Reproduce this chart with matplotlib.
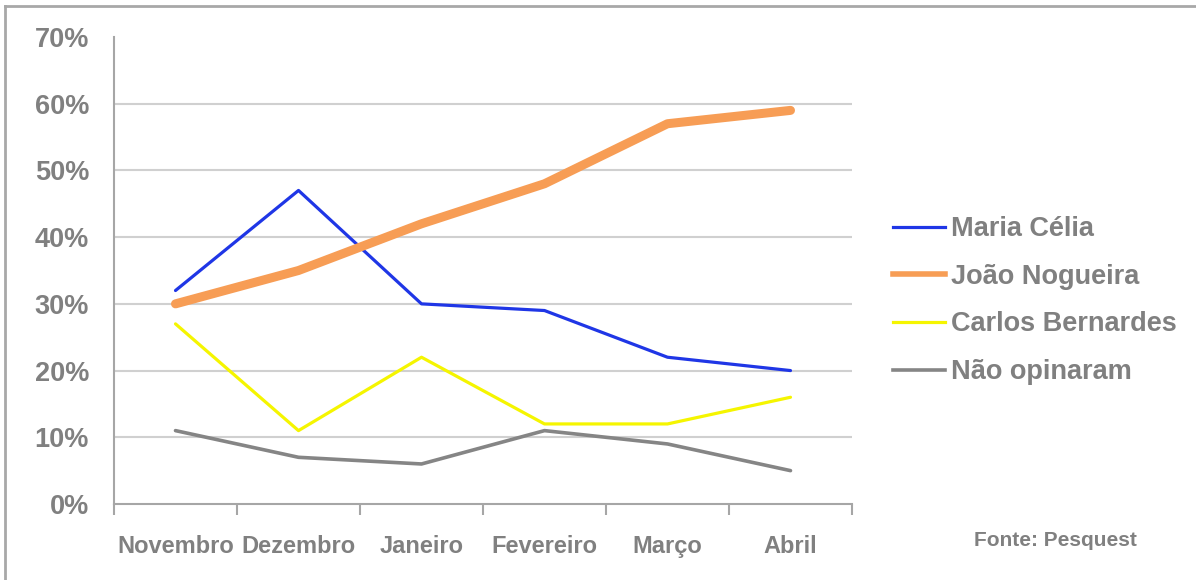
import matplotlib
matplotlib.use("Agg")
import matplotlib.pyplot as plt
from matplotlib.lines import Line2D

months = ["Novembro", "Dezembro", "Janeiro", "Fevereiro", "Março", "Abril"]
maria_celia = [32, 47, 30, 29, 22, 20]
joao_nogueira = [30, 35, 42, 48, 57, 59]
carlos_bernardes = [27, 11, 22, 12, 12, 16]
nao_opinaram = [11, 7, 6, 11, 9, 5]
y_ticks = [0, 10, 20, 30, 40, 50, 60, 70]
y_tick_labels = [f"{v}%" for v in y_ticks]

series = [
    ("Maria Célia", maria_celia, "#1f36e6", 2.3),
    ("João Nogueira", joao_nogueira, "#f79d55", 6.5),
    ("Carlos Bernardes", carlos_bernardes, "#f5f500", 2.3),
    ("Não opinaram", nao_opinaram, "#858585", 2.6),
]

plt.rcParams['font.family'] = ['Liberation Sans', 'DejaVu Sans']
W, H = 1196, 580
fig = plt.figure(figsize=(W / 100, H / 100), dpi=100)
ax = fig.add_axes([114 / W, 1 - 504 / H, (852 - 114) / W, (504 - 37) / H])

x = list(range(len(months)))
for name, vals, color, lw in series:
    ax.plot(x, vals, color=color, lw=lw, label=name, solid_capstyle='round',
            solid_joinstyle='round', zorder=3)

ax.set_xlim(-0.5, len(months) - 0.5)
ax.set_ylim(0, 70)
ax.set_yticks(y_ticks)
ax.set_yticklabels(y_tick_labels)
ax.set_xticks(x)
ax.set_xticklabels(months)
ax.set_xticks([i - 0.5 for i in range(len(months) + 1)], minor=True)

txt = "#808080"
ax.tick_params(axis='y', length=0, pad=18, labelsize=19.5, labelcolor=txt)
ax.tick_params(axis='x', which='major', length=0, pad=22, labelsize=17, labelcolor=txt)
ax.tick_params(axis='x', which='minor', length=8, width=1.5, color="#a6a6a6", direction='out')
for lbl in ax.get_xticklabels() + ax.get_yticklabels():
    lbl.set_fontweight('bold')

for v in y_ticks[1:-1]:
    ax.axhline(v, color="#d0d0d0", lw=1.5, zorder=1)

for s in ['top', 'right']:
    ax.spines[s].set_visible(False)
for s in ['left', 'bottom']:
    ax.spines[s].set_color("#a6a6a6")
    ax.spines[s].set_linewidth(1.5)

handles = [Line2D([], [], color=c, lw=lw if lw < 5 else 4.0) for _, _, c, lw in series]
leg = fig.legend(handles, [s[0] for s in series], loc='upper left',
                 bbox_to_anchor=(893 / W, 1 - 216 / H), frameon=False,
                 prop={'size': 19.5, 'weight': 'bold'}, labelcolor=txt,
                 handlelength=1.92, handletextpad=0.22, labelspacing=0.80,
                 borderaxespad=0, borderpad=0)

fig.text(1055 / W, 1 - 541 / H, "Fonte: Pesquest", ha='center', va='center',
         fontsize=15, fontweight='bold', color=txt)

# partial frame (top and left edges)
fig.add_artist(Line2D([5 / W, 1.0], [1 - 6 / H, 1 - 6 / H], color="#a8a8a8", lw=2,
                      transform=fig.transFigure))
fig.add_artist(Line2D([5 / W, 5 / W], [0, 1 - 6 / H], color="#a8a8a8", lw=2,
                      transform=fig.transFigure))

fig.savefig("out.png", dpi=100, facecolor="white")
